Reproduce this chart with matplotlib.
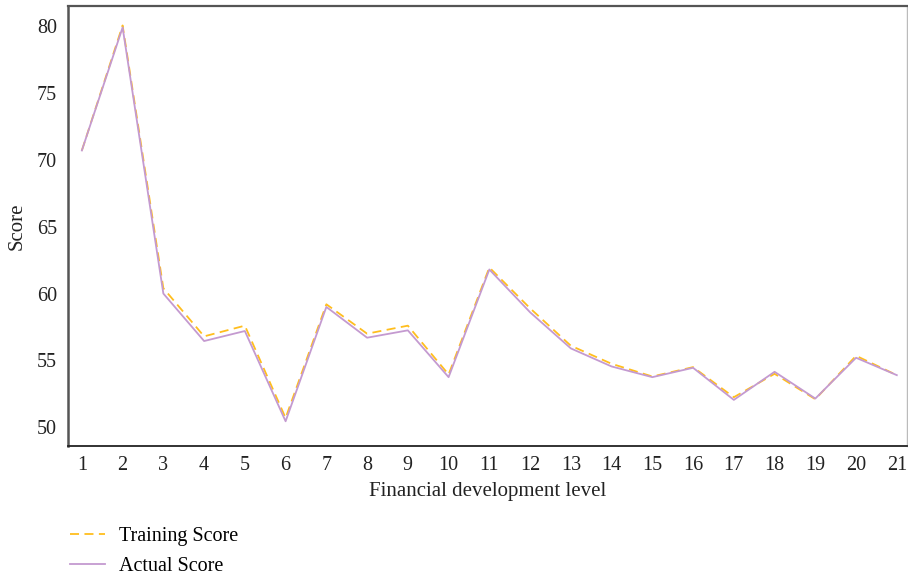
import numpy as np
import matplotlib.pyplot as plt

plt.rcParams['font.family'] = ['Liberation Serif', 'DejaVu Serif']

# financial development levels 1..21
levels = list(range(1, 22))
training_score = [70.7, 80.05, 60.4, 56.8, 57.6, 50.7, 59.2, 57.0, 57.6, 53.95,
                  61.95, 58.9, 56.1, 54.75, 53.8, 54.5, 52.25, 54.0, 52.1, 55.35, 53.9]
actual_score = [70.7, 79.9, 60.0, 56.45, 57.2, 50.45, 59.0, 56.7, 57.25, 53.75,
                61.8, 58.6, 55.9, 54.55, 53.75, 54.45, 52.05, 54.15, 52.15, 55.2, 53.9]
y_ticks = [50, 55, 60, 65, 70, 75, 80]

fig = plt.figure(figsize=(9.08, 5.75), dpi=100)
ax = fig.add_axes([0.0749, 0.2243, 0.924, 0.7652])

ax.plot(levels, training_score, color='#FFBE1E', linestyle=(0, (5, 3)), linewidth=1.3,
        label='Training Score')
ax.plot(levels, actual_score, color='#C49AD0', linewidth=1.3, label='Actual Score')

ax.set_xlim(0.66, 21.25)
ax.set_ylim(48.6, 81.5)
ax.set_xticks(levels)
ax.set_yticks(y_ticks)
ax.tick_params(axis='both', length=0, labelsize=14.5, colors='#222222')
ax.tick_params(axis='x', pad=7)
ax.tick_params(axis='y', pad=8)

ax.spines['left'].set_color('#555555')
ax.spines['left'].set_linewidth(1.8)
ax.spines['top'].set_color('#555555')
ax.spines['top'].set_linewidth(1.6)
ax.spines['bottom'].set_color('#222222')
ax.spines['bottom'].set_linewidth(1.3)
ax.spines['right'].set_color('#bbbbbb')
ax.spines['right'].set_linewidth(1.0)

ax.set_xlabel('Financial development level', fontsize=15, color='#222222', labelpad=5)
ax.set_ylabel('Score', fontsize=15, color='#222222', labelpad=7)

ax.legend(loc='upper left', bbox_to_anchor=(-0.0077, -0.166), frameon=False,
          fontsize=14.5, handlelength=1.75, handletextpad=0.7, labelspacing=0.55,
          borderaxespad=0)

fig.savefig('out.png', dpi=100)
